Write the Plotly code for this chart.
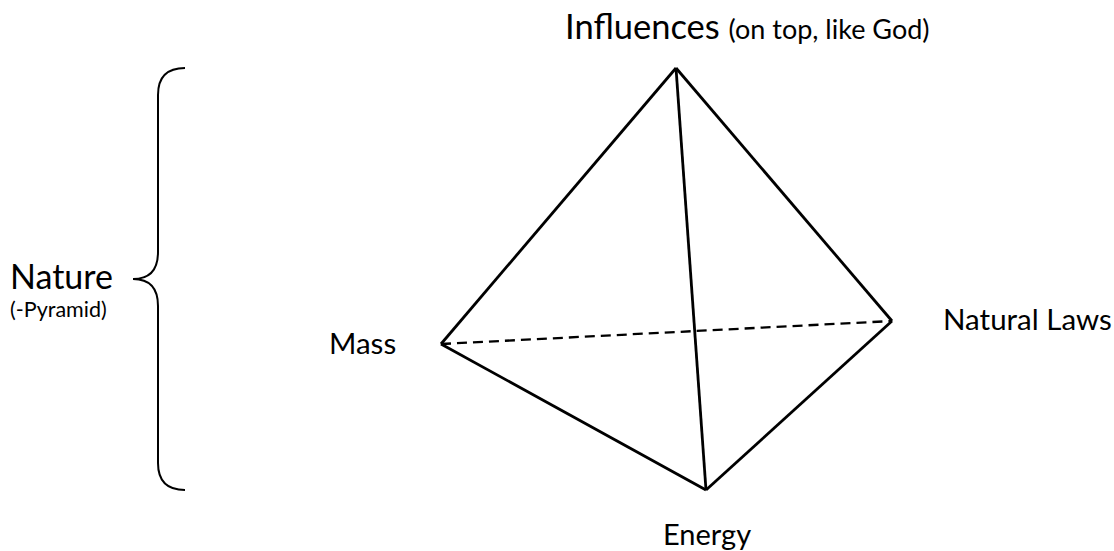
import plotly.graph_objects as go

W, H = 1114, 551

# Tetrahedron vertices (diagram coordinates, y grows downward)
vertex_names = ["Top", "Mass", "Natural Laws", "Energy"]
vertex_x = [676, 441, 892, 706]
vertex_y = [68, 344, 321, 490]

# Solid edges and hidden (dashed) edge, as vertex index pairs
solid_edges = [(0, 1), (0, 3), (0, 2), (1, 3), (3, 2)]
dashed_edges = [(1, 2)]

# Curly brace geometry
brace_x_end = 185
brace_x_stem = 158
brace_x_tip = 133
brace_y_top = 68
brace_y_tip = 279
brace_y_bottom = 490
brace_r = 27

FONT = "Lato"

fig = go.Figure()

def edge_xy(edges):
    xs, ys = [], []
    for a, b in edges:
        xs += [vertex_x[a], vertex_x[b], None]
        ys += [vertex_y[a], vertex_y[b], None]
    return xs, ys

sx, sy = edge_xy(solid_edges)
fig.add_trace(go.Scatter(x=sx, y=sy, mode="lines",
                         line=dict(color="black", width=2.8),
                         hoverinfo="skip", showlegend=False))
dx, dy = edge_xy(dashed_edges)
fig.add_trace(go.Scatter(x=dx, y=dy, mode="lines",
                         line=dict(color="black", width=2.3, dash="10px,6px"),
                         hoverinfo="skip", showlegend=False))

# brace path
e, s, t = brace_x_end, brace_x_stem, brace_x_tip
yt, ym, yb, r = brace_y_top, brace_y_tip, brace_y_bottom, brace_r
path = (f"M {e},{yt} Q {s},{yt} {s},{yt + r} L {s},{ym - r} "
        f"Q {s},{ym} {t},{ym} Q {s},{ym} {s},{ym + r} "
        f"L {s},{yb - r} Q {s},{yb} {e},{yb}")
fig.add_shape(type="path", path=path, xref="x", yref="y",
              line=dict(color="black", width=2))

ann = []
def label(x, y, text, size, xanchor="left"):
    ann.append(dict(x=x, y=y, xref="x", yref="y", text=text, showarrow=False,
                    xanchor=xanchor, yanchor="middle",
                    font=dict(family=FONT, size=size, color="black")))

label(563, 25, "Influences <span style='font-size:27px'>(on top, like God)</span>", 34.5)
label(8, 275, "Nature", 34)
label(8, 309, "(-Pyramid)", 21.5)
label(327, 342, "Mass", 29.5)
label(941, 318, "Natural Laws", 29.5)
label(661, 533, "Energy", 29)

fig.update_layout(
    width=W, height=H,
    margin=dict(l=0, r=0, t=0, b=0),
    paper_bgcolor="white", plot_bgcolor="white",
    xaxis=dict(range=[0, W], visible=False, fixedrange=True),
    yaxis=dict(range=[H, 0], visible=False, fixedrange=True),
    annotations=ann,
)

fig.write_html("out.html", config={"displayModeBar": False},
               post_script="document.body.style.margin='0';")
